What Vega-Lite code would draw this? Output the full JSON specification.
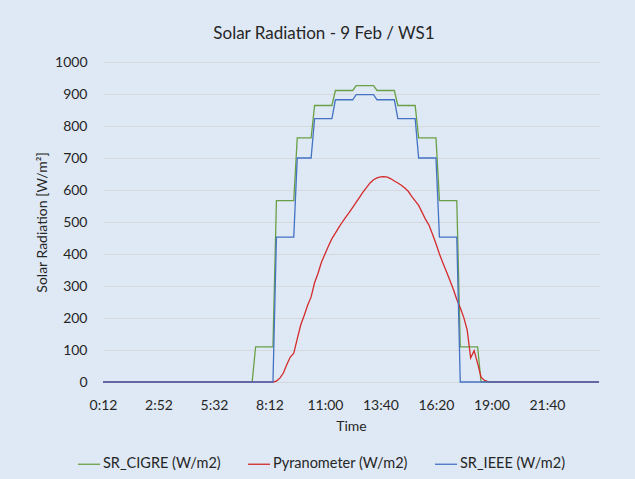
{
  "$schema": "https://vega.github.io/schema/vega-lite/v6.json",
  "autosize": {"type": "none"},
  "width": 496,
  "height": 320,
  "padding": {"left": 103, "top": 62, "right": 36, "bottom": 97},
  "background": "#dfe9f5",
  "title": {"text": "Solar Radiation - 9 Feb / WS1", "font": "Lato", "fontSize": 17, "fontWeight": "normal", "color": "#262626", "anchor": "middle", "frame": "group", "dx": -27, "offset": 12},
  "config": {"view": {"stroke": null}, "font": "Lato"},
  "data": {"values": [
{"i":0,"g":0,"r":0,"b":0},{"i":1,"g":0,"r":0,"b":0},{"i":2,"g":0,"r":0,"b":0},{"i":3,"g":0,"r":0,"b":0},{"i":4,"g":0,"r":0,"b":0},{"i":5,"g":0,"r":0,"b":0},{"i":6,"g":0,"r":0,"b":0},{"i":7,"g":0,"r":0,"b":0},{"i":8,"g":0,"r":0,"b":0},{"i":9,"g":0,"r":0,"b":0},
{"i":10,"g":0,"r":0,"b":0},{"i":11,"g":0,"r":0,"b":0},{"i":12,"g":0,"r":0,"b":0},{"i":13,"g":0,"r":0,"b":0},{"i":14,"g":0,"r":0,"b":0},{"i":15,"g":0,"r":0,"b":0},{"i":16,"g":0,"r":0,"b":0},{"i":17,"g":0,"r":0,"b":0},{"i":18,"g":0,"r":0,"b":0},{"i":19,"g":0,"r":0,"b":0},
{"i":20,"g":0,"r":0,"b":0},{"i":21,"g":0,"r":0,"b":0},{"i":22,"g":0,"r":0,"b":0},{"i":23,"g":0,"r":0,"b":0},{"i":24,"g":0,"r":0,"b":0},{"i":25,"g":0,"r":0,"b":0},{"i":26,"g":0,"r":0,"b":0},{"i":27,"g":0,"r":0,"b":0},{"i":28,"g":0,"r":0,"b":0},{"i":29,"g":0,"r":0,"b":0},
{"i":30,"g":0,"r":0,"b":0},{"i":31,"g":0,"r":0,"b":0},{"i":32,"g":0,"r":0,"b":0},{"i":33,"g":0,"r":0,"b":0},{"i":34,"g":0,"r":0,"b":0},{"i":35,"g":0,"r":0,"b":0},{"i":36,"g":0,"r":0,"b":0},{"i":37,"g":0,"r":0,"b":0},{"i":38,"g":0,"r":0,"b":0},{"i":39,"g":0,"r":0,"b":0},
{"i":40,"g":0,"r":0,"b":0},{"i":41,"g":0,"r":0,"b":0},{"i":42,"g":0,"r":0,"b":0},{"i":43,"g":0,"r":0,"b":0},{"i":44,"g":110,"r":0,"b":0},{"i":45,"g":110,"r":0,"b":0},{"i":46,"g":110,"r":0,"b":0},{"i":47,"g":110,"r":0,"b":0},{"i":48,"g":110,"r":0,"b":0},{"i":49,"g":110,"r":0,"b":0},
{"i":50,"g":567,"r":3,"b":453},{"i":51,"g":567,"r":12,"b":453},{"i":52,"g":567,"r":28,"b":453},{"i":53,"g":567,"r":55,"b":453},{"i":54,"g":567,"r":78,"b":453},{"i":55,"g":567,"r":90,"b":453},{"i":56,"g":763,"r":135,"b":700},{"i":57,"g":763,"r":178,"b":700},{"i":58,"g":763,"r":208,"b":700},{"i":59,"g":763,"r":240,"b":700},
{"i":60,"g":763,"r":266,"b":700},{"i":61,"g":864,"r":310,"b":823},{"i":62,"g":864,"r":340,"b":823},{"i":63,"g":864,"r":375,"b":823},{"i":64,"g":864,"r":400,"b":823},{"i":65,"g":864,"r":425,"b":823},{"i":66,"g":864,"r":448,"b":823},{"i":67,"g":911,"r":465,"b":882},{"i":68,"g":911,"r":483,"b":882},{"i":69,"g":911,"r":500,"b":882},
{"i":70,"g":911,"r":515,"b":882},{"i":71,"g":911,"r":530,"b":882},{"i":72,"g":911,"r":546,"b":882},{"i":73,"g":926,"r":562,"b":898},{"i":74,"g":926,"r":578,"b":898},{"i":75,"g":926,"r":594,"b":898},{"i":76,"g":926,"r":608,"b":898},{"i":77,"g":926,"r":622,"b":898},{"i":78,"g":926,"r":632,"b":898},{"i":79,"g":911,"r":638,"b":882},
{"i":80,"g":911,"r":641,"b":882},{"i":81,"g":911,"r":642,"b":882},{"i":82,"g":911,"r":640,"b":882},{"i":83,"g":911,"r":635,"b":882},{"i":84,"g":911,"r":628,"b":882},{"i":85,"g":864,"r":622,"b":823},{"i":86,"g":864,"r":615,"b":823},{"i":87,"g":864,"r":606,"b":823},{"i":88,"g":864,"r":596,"b":823},{"i":89,"g":864,"r":580,"b":823},
{"i":90,"g":864,"r":566,"b":823},{"i":91,"g":763,"r":552,"b":700},{"i":92,"g":763,"r":530,"b":700},{"i":93,"g":763,"r":508,"b":700},{"i":94,"g":763,"r":490,"b":700},{"i":95,"g":763,"r":462,"b":700},{"i":96,"g":763,"r":432,"b":700},{"i":97,"g":567,"r":400,"b":453},{"i":98,"g":567,"r":372,"b":453},{"i":99,"g":567,"r":345,"b":453},
{"i":100,"g":567,"r":318,"b":453},{"i":101,"g":567,"r":290,"b":453},{"i":102,"g":567,"r":258,"b":453},{"i":103,"g":110,"r":232,"b":0},{"i":104,"g":110,"r":202,"b":0},{"i":105,"g":110,"r":162,"b":0},{"i":106,"g":110,"r":75,"b":0},{"i":107,"g":110,"r":98,"b":0},{"i":108,"g":110,"r":58,"b":0},{"i":109,"g":0,"r":15,"b":0},
{"i":110,"g":0,"r":5,"b":0},{"i":111,"g":0,"r":1,"b":0},{"i":112,"g":0,"r":0,"b":0},{"i":113,"g":0,"r":0,"b":0},{"i":114,"g":0,"r":0,"b":0},{"i":115,"g":0,"r":0,"b":0},{"i":116,"g":0,"r":0,"b":0},{"i":117,"g":0,"r":0,"b":0},{"i":118,"g":0,"r":0,"b":0},{"i":119,"g":0,"r":0,"b":0},
{"i":120,"g":0,"r":0,"b":0},{"i":121,"g":0,"r":0,"b":0},{"i":122,"g":0,"r":0,"b":0},{"i":123,"g":0,"r":0,"b":0},{"i":124,"g":0,"r":0,"b":0},{"i":125,"g":0,"r":0,"b":0},{"i":126,"g":0,"r":0,"b":0},{"i":127,"g":0,"r":0,"b":0},{"i":128,"g":0,"r":0,"b":0},{"i":129,"g":0,"r":0,"b":0},
{"i":130,"g":0,"r":0,"b":0},{"i":131,"g":0,"r":0,"b":0},{"i":132,"g":0,"r":0,"b":0},{"i":133,"g":0,"r":0,"b":0},{"i":134,"g":0,"r":0,"b":0},{"i":135,"g":0,"r":0,"b":0},{"i":136,"g":0,"r":0,"b":0},{"i":137,"g":0,"r":0,"b":0},{"i":138,"g":0,"r":0,"b":0},{"i":139,"g":0,"r":0,"b":0},
{"i":140,"g":0,"r":0,"b":0},{"i":141,"g":0,"r":0,"b":0},{"i":142,"g":0,"r":0,"b":0},{"i":143,"g":0,"r":0,"b":0}
  ]},
  "transform": [
    {"fold": ["g", "r", "b"], "as": ["key", "value"]},
    {"lookup": "key", "from": {"data": {"values": [
      {"key": "g", "series": "SR_CIGRE (W/m2)", "ord": 0},
      {"key": "r", "series": "Pyranometer (W/m2)", "ord": 1},
      {"key": "b", "series": "SR_IEEE (W/m2)", "ord": 2}
    ]}, "key": "key", "fields": ["series", "ord"]}}
  ],
  "mark": {"type": "line", "strokeWidth": 1.3, "interpolate": "linear"},
  "encoding": {
    "x": {"field": "i", "type": "quantitative",
      "scale": {"domain": [0, 143], "nice": false, "zero": false},
      "axis": {"title": "Time", "values": [0, 16, 32, 48, 64, 80, 96, 112, 128],
        "labelExpr": "['0:12','2:52','5:32','8:12','11:00','13:40','16:20','19:00','21:40'][round(datum.value/16)]",
        "grid": false, "domain": false, "ticks": false, "labelPadding": 16, "labelFlush": false, "labelOverlap": false,
        "labelFont": "Lato", "labelFontSize": 14, "labelColor": "#262626",
        "titleFont": "Lato", "titleFontSize": 14, "titleFontWeight": "normal", "titleColor": "#262626", "titlePadding": 7}},
    "y": {"field": "value", "type": "quantitative",
      "scale": {"domain": [0, 1000], "nice": false},
      "axis": {"title": "Solar Radiation [W/m²]", "values": [0,100,200,300,400,500,600,700,800,900,1000], "format": "d",
        "grid": true, "gridColor": "#d6d9dc", "gridWidth": 1, "domain": false, "ticks": false, "labelPadding": 16,
        "labelFont": "Lato", "labelFontSize": 14, "labelColor": "#262626",
        "titleFont": "Lato", "titleFontSize": 14, "titleFontWeight": "normal", "titleColor": "#262626", "titlePadding": 5}},
    "color": {"field": "series", "type": "nominal",
      "scale": {"domain": ["SR_CIGRE (W/m2)", "Pyranometer (W/m2)", "SR_IEEE (W/m2)"], "range": ["#6aa045", "#d42a2a", "#4472c4"]},
      "legend": {"title": null, "orient": "none", "legendX": -26, "legendY": 390, "direction": "horizontal",
        "symbolType": "stroke", "symbolSize": 484, "symbolStrokeWidth": 1.3, "columnPadding": 24, "labelOffset": 2,
        "labelFont": "Lato", "labelFontSize": 14.5, "labelColor": "#262626", "padding": 0}},
    "order": {"field": "ord", "type": "quantitative"}
  }
}
